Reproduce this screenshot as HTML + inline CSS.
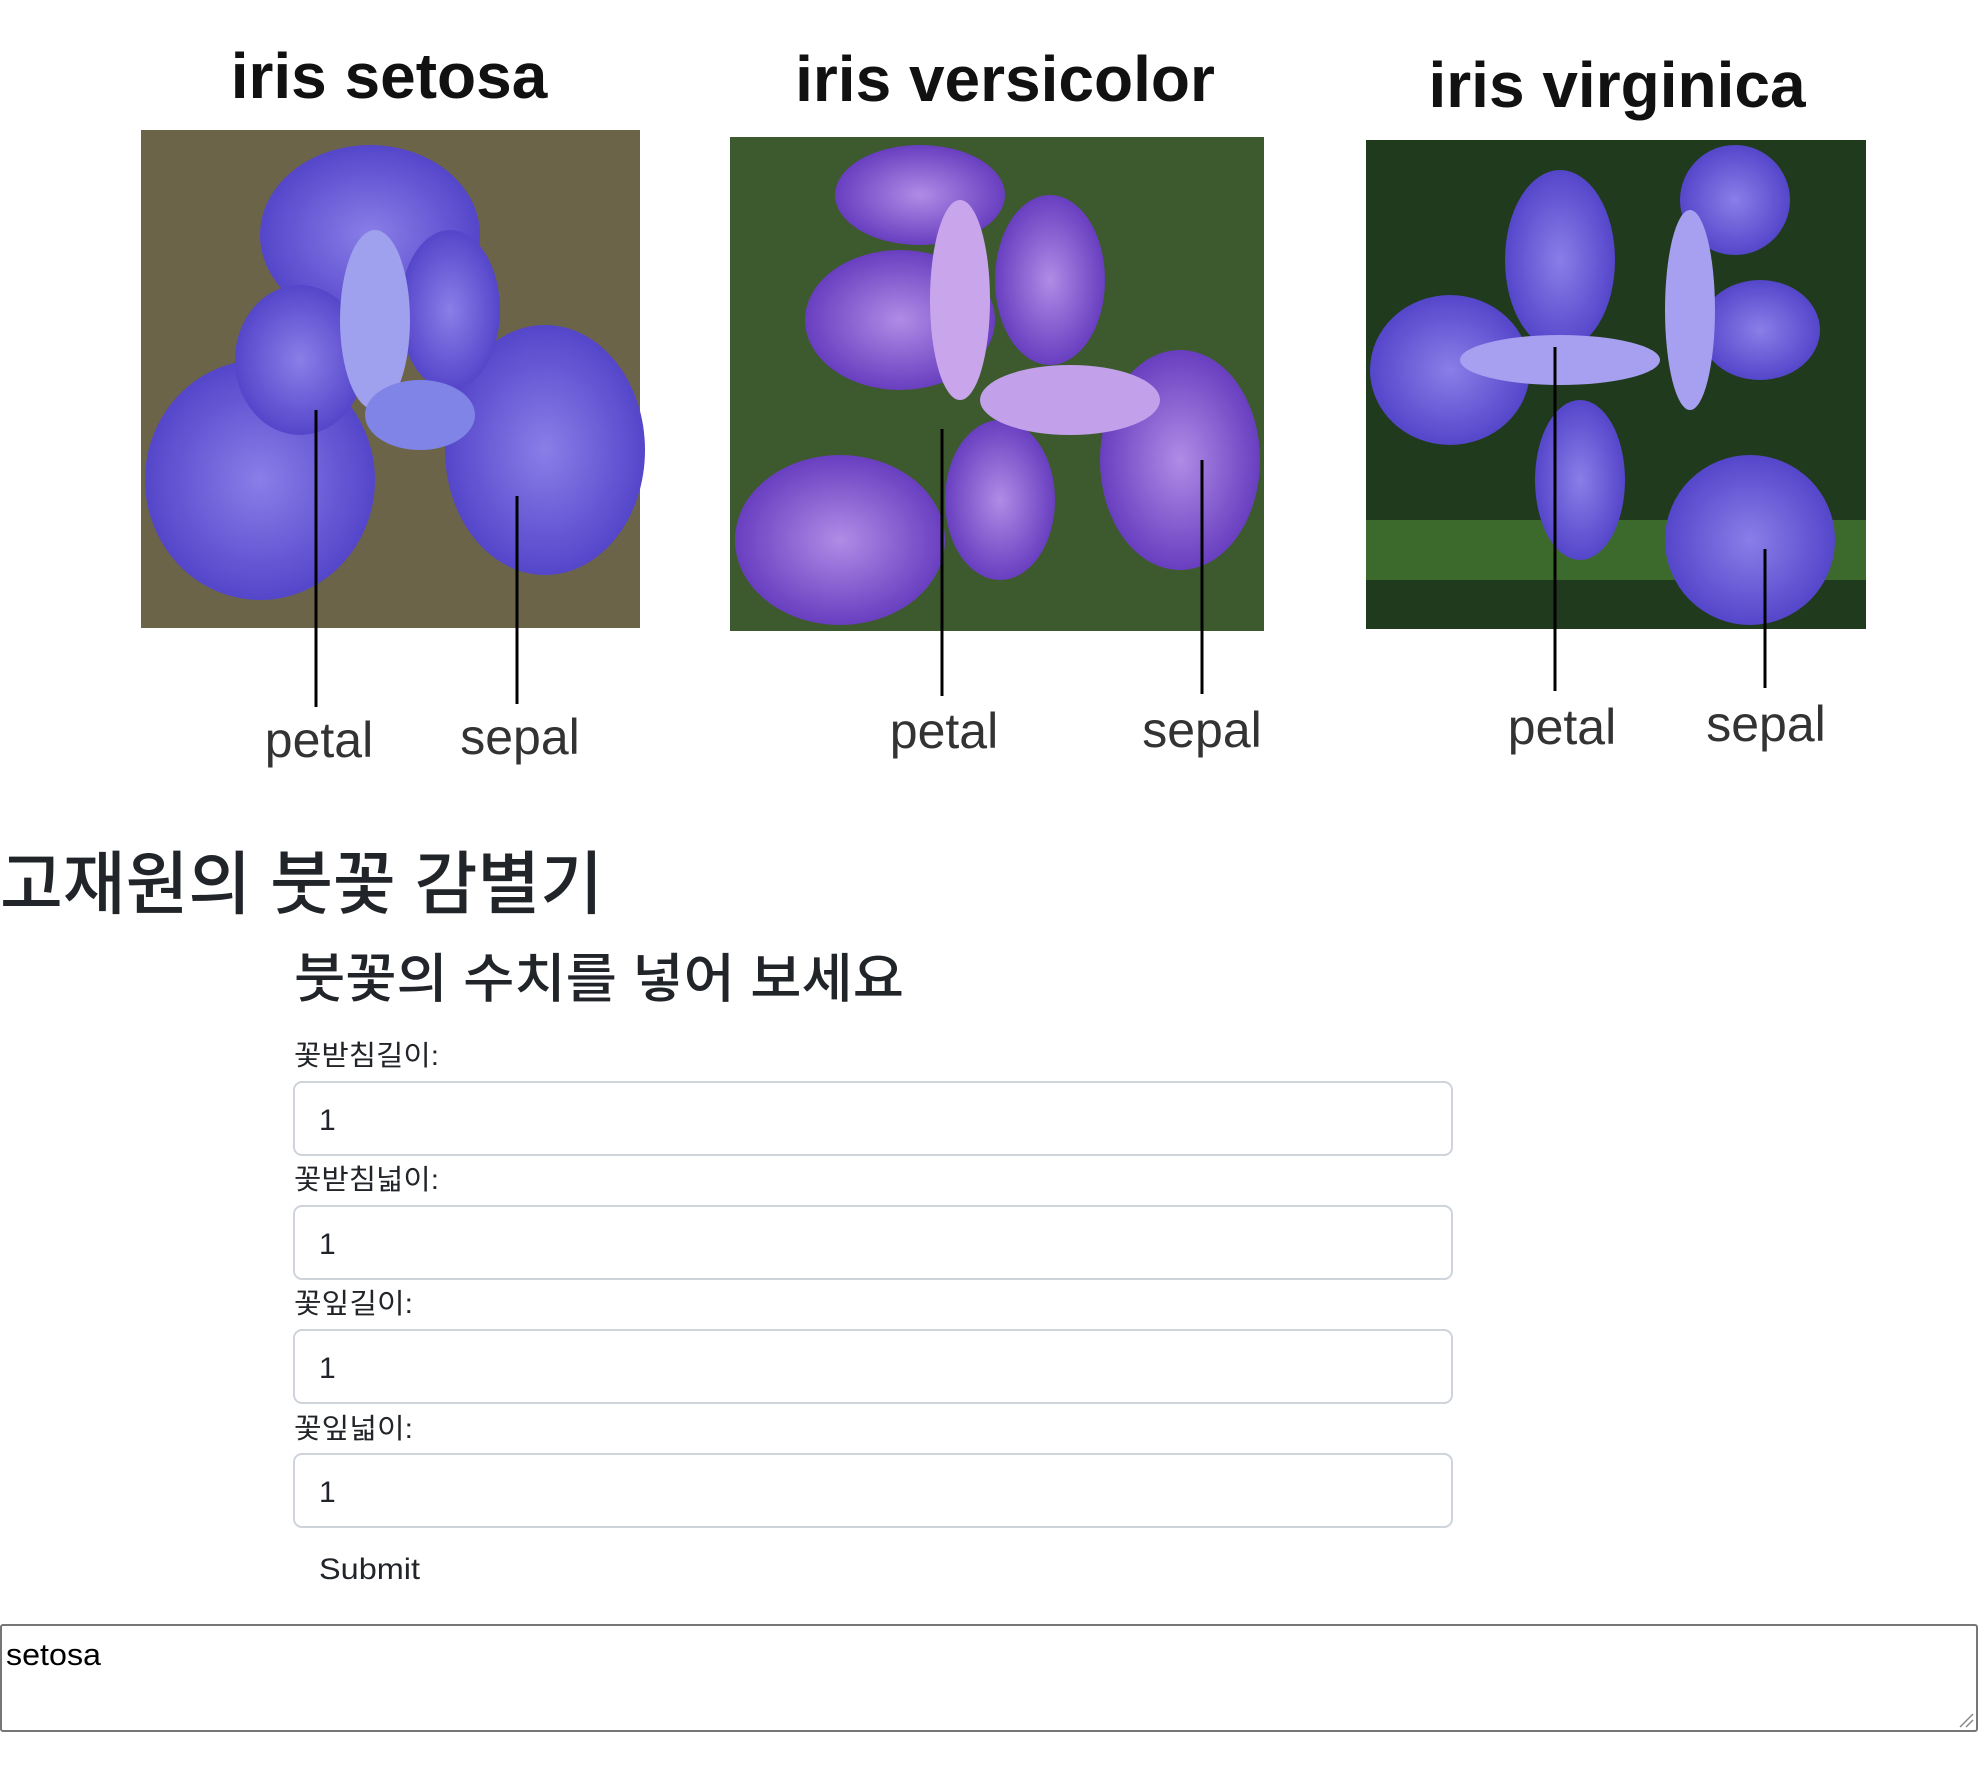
<!DOCTYPE html>
<html><head><meta charset="utf-8"><style>
html,body{margin:0;padding:0;background:#fff;width:1978px;height:1788px;overflow:hidden}
</style></head><body>
<svg width="1978" height="1788" viewBox="0 0 1978 1788" xmlns="http://www.w3.org/2000/svg">
<defs>
<radialGradient id="pet" cx="50%" cy="50%" r="60%"><stop offset="0" stop-color="#8a7ee8"/><stop offset="1" stop-color="#4a3bc4"/></radialGradient>
<radialGradient id="pet2" cx="50%" cy="50%" r="60%"><stop offset="0" stop-color="#b08ce6"/><stop offset="1" stop-color="#5a2fb8"/></radialGradient>
</defs>
<g font-family="'Liberation Sans',sans-serif" font-weight="bold" font-size="64" fill="#111" text-anchor="middle">
<text x="389" y="98">iris setosa</text>
<text x="1005" y="101">iris versicolor</text>
<text x="1617" y="107">iris virginica</text>
</g>
<rect x="141" y="130" width="499" height="498" fill="#6b6448"/>
<g fill="url(#pet)">
<ellipse cx="260" cy="480" rx="115" ry="120"/>
<ellipse cx="545" cy="450" rx="100" ry="125"/>
<ellipse cx="370" cy="235" rx="110" ry="90"/>
<ellipse cx="300" cy="360" rx="65" ry="75"/>
<ellipse cx="450" cy="310" rx="50" ry="80"/>
</g>
<ellipse cx="375" cy="320" rx="35" ry="90" fill="#9fa0ee"/>
<ellipse cx="420" cy="415" rx="55" ry="35" fill="#7f84e6"/>
<rect x="730" y="137" width="534" height="494" fill="#3c5a2e"/>
<g fill="url(#pet2)">
<ellipse cx="840" cy="540" rx="105" ry="85"/>
<ellipse cx="1180" cy="460" rx="80" ry="110"/>
<ellipse cx="900" cy="320" rx="95" ry="70"/>
<ellipse cx="1050" cy="280" rx="55" ry="85"/>
<ellipse cx="1000" cy="500" rx="55" ry="80"/>
<ellipse cx="920" cy="195" rx="85" ry="50"/>
</g>
<ellipse cx="960" cy="300" rx="30" ry="100" fill="#c9a6ec"/>
<ellipse cx="1070" cy="400" rx="90" ry="35" fill="#c3a0ea"/>
<rect x="1366" y="140" width="500" height="489" fill="#1f3a1c"/>
<rect x="1366" y="520" width="500" height="60" fill="#3c6a2c"/>
<g fill="url(#pet)">
<ellipse cx="1450" cy="370" rx="80" ry="75"/>
<ellipse cx="1750" cy="540" rx="85" ry="85"/>
<ellipse cx="1560" cy="260" rx="55" ry="90"/>
<ellipse cx="1735" cy="200" rx="55" ry="55"/>
<ellipse cx="1760" cy="330" rx="60" ry="50"/>
<ellipse cx="1580" cy="480" rx="45" ry="80"/>
</g>
<ellipse cx="1560" cy="360" rx="100" ry="25" fill="#a79ff0"/>
<ellipse cx="1690" cy="310" rx="25" ry="100" fill="#a79ff0"/>
<g stroke="#000" stroke-width="3">
<line x1="316" y1="410" x2="316" y2="707"/><line x1="517" y1="496" x2="517" y2="704"/>
<line x1="942" y1="429" x2="942" y2="696"/><line x1="1202" y1="460" x2="1202" y2="694"/>
<line x1="1555" y1="347" x2="1555" y2="691"/><line x1="1765" y1="549" x2="1765" y2="688"/>
</g>
<g font-family="'Liberation Sans',sans-serif" font-size="50" fill="#333" text-anchor="middle">
<text x="319" y="757">petal</text><text x="520" y="754">sepal</text>
<text x="944" y="748">petal</text><text x="1202" y="747">sepal</text>
<text x="1562" y="744">petal</text><text x="1766" y="741">sepal</text>
</g>
<g font-family="'Liberation Sans','Noto Sans CJK KR',sans-serif" fill="#212529">
<text x="0" y="908" font-size="69" font-weight="500" textLength="603" lengthAdjust="spacingAndGlyphs">고재원의 붓꽃 감별기</text>
<text x="294" y="997" font-size="53" font-weight="500" textLength="610" lengthAdjust="spacingAndGlyphs">붓꽃의 수치를 넣어 보세요</text>
<g font-size="28">
<text x="294" y="1065" textLength="145" lengthAdjust="spacingAndGlyphs">꽃받침길이:</text>
<text x="294" y="1189" textLength="145" lengthAdjust="spacingAndGlyphs">꽃받침넓이:</text>
<text x="294" y="1313" textLength="119" lengthAdjust="spacingAndGlyphs">꽃잎길이:</text>
<text x="294" y="1438" textLength="119" lengthAdjust="spacingAndGlyphs">꽃잎넓이:</text>
</g>
</g>
<g fill="#fff" stroke="#ced4da" stroke-width="2">
<rect x="294" y="1082" width="1158" height="73" rx="8"/>
<rect x="294" y="1206" width="1158" height="73" rx="8"/>
<rect x="294" y="1330" width="1158" height="73" rx="8"/>
<rect x="294" y="1454" width="1158" height="73" rx="8"/>
</g>
<g font-family="'Liberation Sans',sans-serif" font-size="30" fill="#212529">
<text x="319" y="1130">1</text><text x="319" y="1254">1</text>
<text x="319" y="1378">1</text><text x="319" y="1502">1</text>
<text x="319" y="1579" textLength="101" lengthAdjust="spacingAndGlyphs">Submit</text>
</g>
<rect x="1" y="1625" width="1976" height="106" fill="#fff" stroke="#767676" stroke-width="2" rx="2"/>
<g stroke="#888" stroke-width="1.5"><line x1="1960" y1="1727" x2="1973" y2="1714"/><line x1="1966" y1="1727" x2="1973" y2="1720"/></g>
<text x="6" y="1665" font-family="'Liberation Sans',sans-serif" font-size="31" fill="#000" textLength="95" lengthAdjust="spacingAndGlyphs">setosa</text>
</svg>
</body></html>
